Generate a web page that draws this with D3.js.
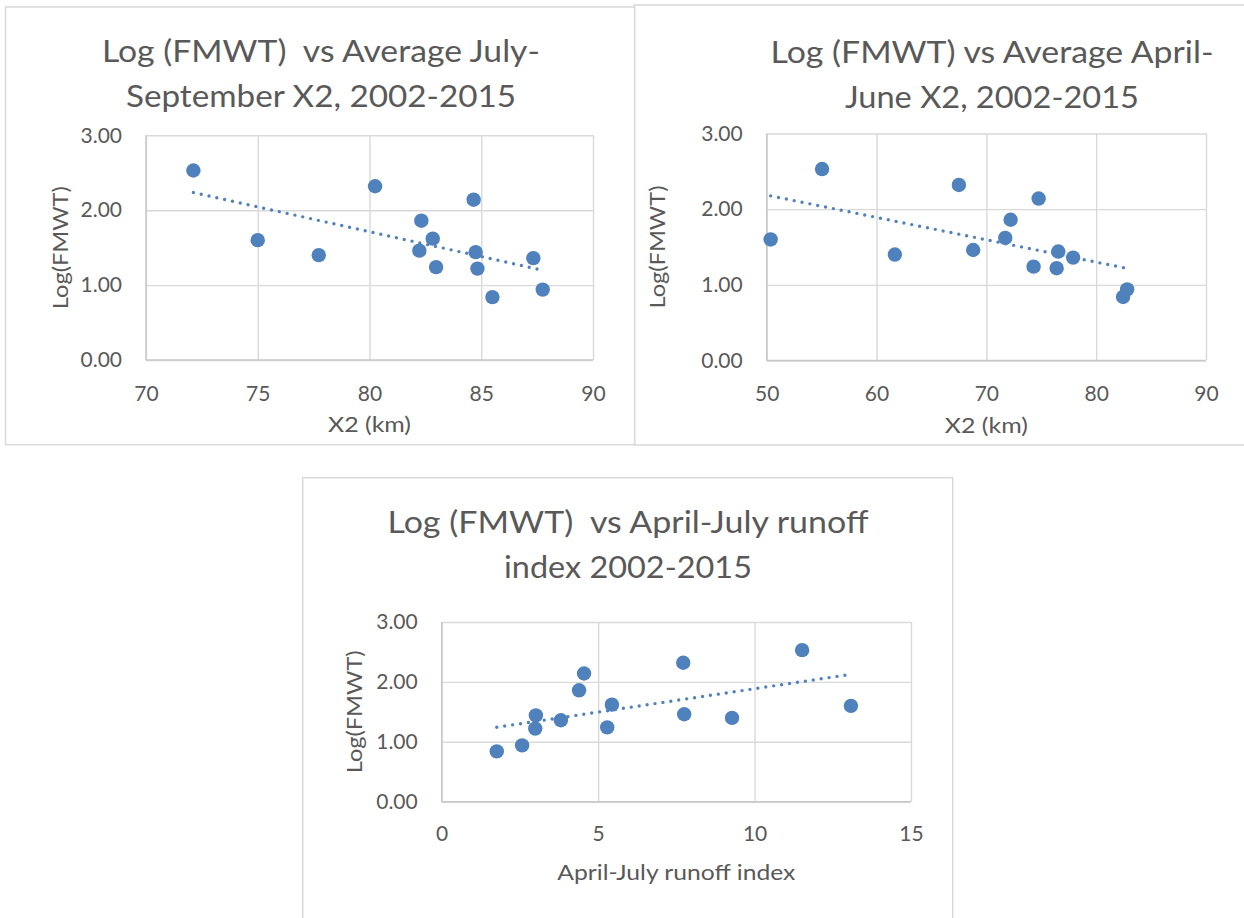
<!DOCTYPE html>
<html>
<head>
<meta charset="utf-8">
<script src="https://cdn.jsdelivr.net/npm/d3@7"></script>
<style>
  body { margin: 0; background: #fff; }
  text { font-family: Lato, "Open Sans", sans-serif; fill: #595959; }
</style>
</head>
<body>
<svg id="chart" width="1244" height="918"></svg>
<script>
// one value per year, 2002-2015 (same year order in every array)
var logFMWT   = [2.53, 1.60, 1.40, 2.32, 1.86, 1.62, 1.46, 1.24, 2.14, 1.44, 1.22, 0.84, 1.36, 0.94];
var x2JulSep  = [72.12, 75.00, 77.73, 80.25, 82.32, 82.83, 82.23, 82.98, 84.66, 84.75, 84.83, 85.50, 87.33, 87.75];
var x2AprJun  = [55.04, 50.36, 61.67, 67.50, 72.21, 71.72, 68.80, 74.30, 74.76, 76.55, 76.40, 82.45, 77.90, 82.82];
var runoffIdx = [11.52, 13.08, 9.28, 7.72, 4.39, 5.44, 7.75, 5.29, 4.55, 3.01, 2.99, 1.76, 3.81, 2.57];

var yTicks       = [0, 1, 2, 3];
var julSepTicks  = [70, 75, 80, 85, 90];
var aprJunTicks  = [50, 60, 70, 80, 90];
var runoffTicks  = [0, 5, 10, 15];

var svg = d3.select("#chart"),
    dotColor = "#4F81BD",
    gridColor = "#D9D9D9";

var panels = [
  {
    box: [634, 5, 1262, 445], plot: [766.7, 133.5, 1206, 360.5],
    xs: x2AprJun, xTicks: aprJunTicks, xPad: 26,
    title: ["Log (FMWT) vs Average April-", "June X2, 2002-2015"],
    titleW: [443, 294], titleX: 992, titleY: [63, 108],
    xTitle: "X2 (km)", xTitleW: 83, xTitleY: 433, yTitleX: 658
  },
  {
    box: [5.5, 7, 634.7, 444.7], plot: [146, 135.3, 593, 360],
    xs: x2JulSep, xTicks: julSepTicks, xPad: 26,
    title: ["Log (FMWT)  vs Average July-", "September X2, 2002-2015"],
    titleW: [438, 390], titleX: 321, titleY: [62, 107],
    xTitle: "X2 (km)", xTitleW: 83, xTitleY: 432, yTitleX: 61
  },
  {
    box: [302.7, 477.7, 952.7, 930], plot: [441.7, 622, 911, 801.7],
    xs: runoffIdx, xTicks: runoffTicks, xPad: 24,
    title: ["Log (FMWT)  vs April-July runoff", "index 2002-2015"],
    titleW: [481, 248], titleX: 628, titleY: [533, 578],
    xTitle: "April-July runoff index", xTitleW: 238, xTitleY: 880, yTitleX: 355
  }
];

function linReg(xs, ys) {
  var mx = d3.mean(xs), my = d3.mean(ys), sxy = 0, sxx = 0;
  xs.forEach(function(v, i) {
    sxy += (v - mx) * (ys[i] - my);
    sxx += (v - mx) * (v - mx);
  });
  var slope = sxy / sxx;
  return {slope: slope, intercept: my - slope * mx};
}

function styleAxis(s) {
  s.attr("font-family", null).attr("font-size", null);
  s.select(".domain").remove();
}

panels.forEach(function(p) {
  var g = svg.append("g");
  var w = p.plot[2] - p.plot[0],
      h = p.plot[3] - p.plot[1];

  g.append("rect")
      .attr("x", p.box[0])
      .attr("y", p.box[1])
      .attr("width", p.box[2] - p.box[0])
      .attr("height", p.box[3] - p.box[1])
      .attr("fill", "#fff")
      .attr("stroke", gridColor)
      .attr("stroke-width", 1.5);

  var x = d3.scaleLinear().domain(d3.extent(p.xTicks)).range([p.plot[0], p.plot[2]]);
  var y = d3.scaleLinear().domain([0, 3]).range([p.plot[3], p.plot[1]]);

  // gridlines
  g.append("g")
      .attr("transform", "translate(0," + p.plot[3] + ")")
      .call(d3.axisBottom(x).tickValues(p.xTicks).tickSize(-h).tickFormat(""))
      .call(styleAxis)
      .selectAll("line").attr("stroke", gridColor).attr("stroke-width", 1.4);

  g.append("g")
      .attr("transform", "translate(" + p.plot[0] + ",0)")
      .call(d3.axisLeft(y).tickValues(yTicks).tickSize(-w).tickFormat(""))
      .call(styleAxis)
      .selectAll("line").attr("stroke", gridColor).attr("stroke-width", 1.4);

  // axis lines
  g.append("line")
      .attr("x1", x.range()[0]).attr("x2", x.range()[1])
      .attr("y1", y(0)).attr("y2", y(0))
      .attr("stroke", "#C9C9C9").attr("stroke-width", 1.5);
  g.append("line")
      .attr("x1", x.range()[0]).attr("x2", x.range()[0])
      .attr("y1", y(0)).attr("y2", y(3))
      .attr("stroke", "#C9C9C9").attr("stroke-width", 1.5);

  // tick labels
  g.append("g")
      .attr("transform", "translate(0," + p.plot[3] + ")")
      .call(d3.axisBottom(x).tickValues(p.xTicks).tickSize(0).tickPadding(p.xPad))
      .call(styleAxis)
      .selectAll("text").attr("fill", "#595959").style("font-size", "21px");

  g.append("g")
      .attr("transform", "translate(" + p.plot[0] + ",0)")
      .call(d3.axisLeft(y).tickValues(yTicks).tickSize(0).tickPadding(24).tickFormat(d3.format(".2f")))
      .call(styleAxis)
      .selectAll("text").attr("fill", "#595959").style("font-size", "21px");

  // points
  g.selectAll("circle")
      .data(d3.range(logFMWT.length))
      .enter()
      .append("circle")
      .attr("r", 7.2)
      .attr("cx", function(i) { return x(p.xs[i]); })
      .attr("cy", function(i) { return y(logFMWT[i]); })
      .attr("fill", dotColor);

  // linear trendline
  var reg = linReg(p.xs, logFMWT),
      ext = d3.extent(p.xs);
  g.append("path")
      .datum(ext)
      .attr("d", d3.line()
          .x(function(d) { return x(d); })
          .y(function(d) { return y(reg.intercept + reg.slope * d); }))
      .attr("fill", "none")
      .attr("stroke", dotColor)
      .attr("stroke-width", 3.4)
      .attr("stroke-linecap", "round")
      .attr("stroke-dasharray", "0 8");

  // titles
  p.title.forEach(function(t, i) {
    g.append("text")
        .text(t)
        .attr("x", p.titleX)
        .attr("y", p.titleY[i])
        .attr("text-anchor", "middle")
        .attr("textLength", p.titleW[i])
        .attr("lengthAdjust", "spacingAndGlyphs")
        .style("white-space", "pre")
        .style("font-size", "30px");
  });

  g.append("text")
      .text(p.xTitle)
      .attr("x", (p.plot[0] + p.plot[2]) / 2)
      .attr("y", p.xTitleY)
      .attr("text-anchor", "middle")
      .attr("textLength", p.xTitleW)
      .attr("lengthAdjust", "spacingAndGlyphs")
      .style("font-size", "21px");

  g.append("text")
      .text("Log(FMWT)")
      .attr("transform", "translate(" + p.yTitleX + "," + (p.plot[1] + p.plot[3]) / 2 + ") rotate(-90)")
      .attr("dy", "0.35em")
      .attr("text-anchor", "middle")
      .attr("textLength", 123)
      .attr("lengthAdjust", "spacingAndGlyphs")
      .style("font-size", "21px");
});
</script>
</body>
</html>
